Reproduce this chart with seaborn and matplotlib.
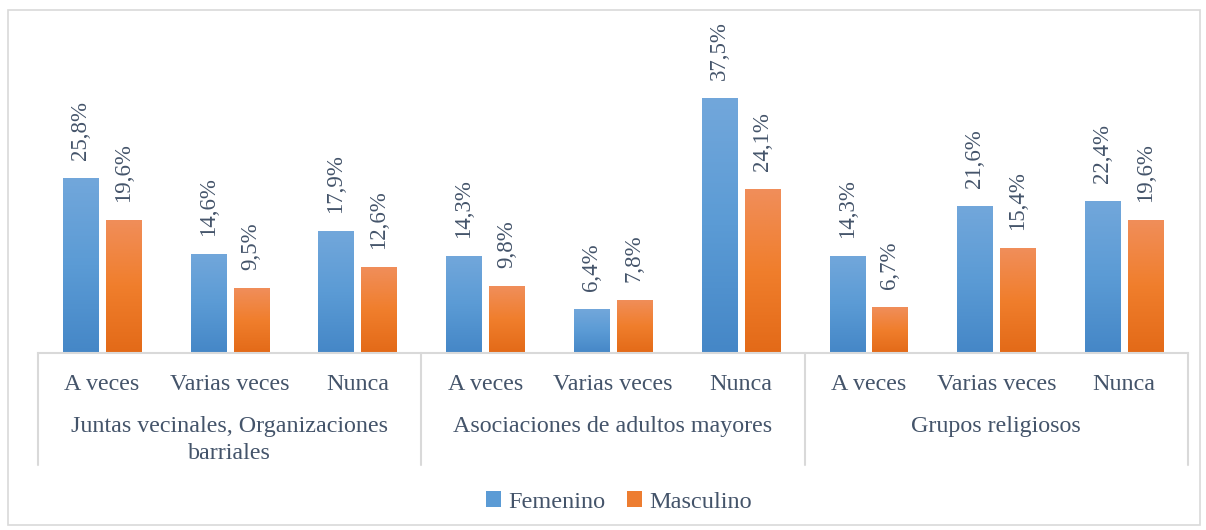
import numpy as np
import pandas as pd
import seaborn as sns
import matplotlib
matplotlib.use("Agg")
from matplotlib import pyplot as plt
from matplotlib.colors import LinearSegmentedColormap
from matplotlib.patches import Patch, Rectangle
from matplotlib import transforms

# data
grupos = ["Juntas vecinales, Organizaciones\nbarriales",
          "Asociaciones de adultos mayores",
          "Grupos religiosos"]
frecuencias = ["A veces", "Varias veces", "Nunca"]
femenino = [25.8, 14.6, 17.9, 14.3, 6.4, 37.5, 14.3, 21.6, 22.4]
masculino = [19.6, 9.5, 12.6, 9.8, 7.8, 24.1, 6.7, 15.4, 19.6]
series = ["Femenino", "Masculino"]

sns.set_theme(style="white")
plt.rcParams['font.family'] = ['Liberation Serif', 'DejaVu Serif']
txt_color = "#44546A"

claves = [f"{g}|{f}" for g in grupos for f in frecuencias]
df = pd.DataFrame({
    "clave": claves * 2,
    "valor": femenino + masculino,
    "sexo": [series[0]] * 9 + [series[1]] * 9,
})

fig = plt.figure(figsize=(12.06, 5.30), dpi=100)
ax = fig.add_axes([38 / 1206, 1 - 353 / 530, 1150 / 1206, 272 / 530])

pal = {"Femenino": "#5B9BD5", "Masculino": "#ED7D31"}
sns.barplot(data=df, x="clave", y="valor", hue="sexo", order=claves,
            palette=pal, width=0.67, gap=0.18, legend=False, ax=ax)

# gradient fill like the office chart
grads = [["#72A7DB", "#5B9BD5", "#4587C7"], ["#F08E5A", "#F07E2C", "#E36A18"]]
for cont, cols in zip(ax.containers, grads):
    cmap = LinearSegmentedColormap.from_list("g", cols[::-1])
    for p in cont.patches:
        x0, y0 = p.get_x(), p.get_y()
        w, h = p.get_width(), p.get_height()
        im = ax.imshow(np.linspace(0, 1, 100).reshape(-1, 1), cmap=cmap,
                       extent=[x0, x0 + w, y0, y0 + h], origin="lower",
                       aspect="auto", zorder=2)
        im.set_clip_path(p)
        p.set_facecolor("none")
        p.set_edgecolor("none")
    ax.bar_label(cont, labels=[f"{v:.1f}%".replace(".", ",") for v in cont.datavalues],
                 rotation=90, padding=13, fontsize=16.5, color=txt_color)

ax.set_xlim(-0.5, 8.5)
ax.set_ylim(0, 40)
ax.set_yticks([])
ax.set_ylabel("")
ax.set_xlabel("")
ax.set_xticks(range(9))
ax.set_xticklabels([])
ax.tick_params(axis="x", length=0)
for s in ["top", "right", "left"]:
    ax.spines[s].set_visible(False)
ax.spines["bottom"].set_color("#D9D9D9")
ax.spines["bottom"].set_linewidth(1.5)

# two-level category axis
trans = transforms.blended_transform_factory(ax.transData, ax.transAxes)
for i, c in enumerate(claves):
    ax.annotate(c.split("|")[1], xy=(i, 0), xycoords=trans, xytext=(0, -31),
                textcoords="offset pixels", ha="center", va="center",
                fontsize=17.3, color=txt_color)
for j, g in enumerate(grupos):
    ax.annotate(g, xy=(3 * j + 1, 0), xycoords=trans, xytext=(0, -63),
                textcoords="offset pixels", ha="center", va="top",
                fontsize=17.3, color=txt_color, linespacing=1.4)
for xs in [-0.5, 2.5, 5.5, 8.5]:
    ax.plot([xs, xs], [0, -112 / 272], transform=trans, color="#D9D9D9",
            lw=1.5, clip_on=False)

handles = [Patch(facecolor=pal[s], edgecolor="none") for s in series]
fig.legend(handles, series, loc="center", bbox_to_anchor=(619 / 1206, 1 - 502 / 530),
           ncol=2, frameon=False, fontsize=17.5, handlelength=0.6, handleheight=0.6,
           handletextpad=0.3, columnspacing=0.9, labelcolor=txt_color)

fig.patches.append(Rectangle((8 / 1206, 5 / 530), 1192 / 1206, 515 / 530,
                             transform=fig.transFigure, fill=False,
                             edgecolor="#D9D9D9", lw=1.2))

fig.savefig("out.png", dpi=100)
